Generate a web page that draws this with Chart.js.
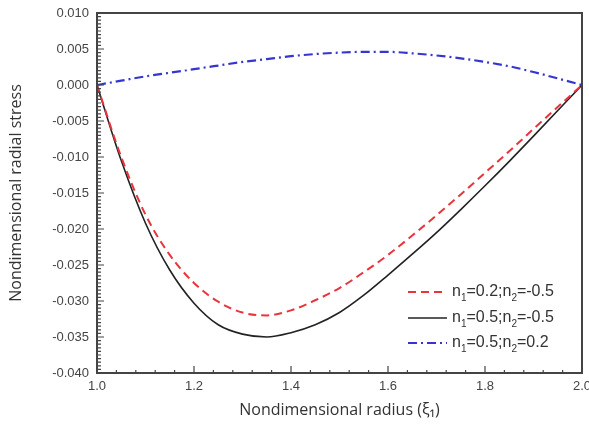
<!DOCTYPE html>
<html>
<head>
<meta charset="utf-8">
<script src="https://cdn.jsdelivr.net/npm/chart.js@4/dist/chart.umd.min.js"></script>
<style>
  html, body { margin: 0; padding: 0; background: #fff; }
  #wrap { width: 589px; height: 432px; }
</style>
</head>
<body>
<div id="wrap"><canvas id="chart" width="589" height="432"></canvas></div>
<script>
// Nondimensional radius (x) and radial stress for the three cases
const RADIUS = [1.0, 1.05, 1.1, 1.15, 1.2, 1.25, 1.3, 1.35, 1.4, 1.45, 1.5, 1.55, 1.6, 1.65, 1.7, 1.75, 1.8, 1.85, 1.9, 2.0];
const STRESS_A = [0, -0.0100, -0.0180, -0.0236, -0.0275, -0.0301, -0.0316, -0.0320, -0.0313, -0.0299, -0.0282, -0.0260, -0.0236, -0.0209, -0.0181, -0.0152, -0.0122, -0.0092, -0.0061, 0];
const STRESS_B = [0, -0.0105, -0.0192, -0.0257, -0.0303, -0.0333, -0.0346, -0.0350, -0.0344, -0.0333, -0.0316, -0.0292, -0.0264, -0.0235, -0.0205, -0.0173, -0.0140, -0.0106, -0.0071, 0];
const STRESS_C = [0, 0.0006, 0.0012, 0.0017, 0.0022, 0.0027, 0.0032, 0.0036, 0.0040, 0.0043, 0.0045, 0.0046, 0.0046, 0.0044, 0.0041, 0.0037, 0.0032, 0.0026, 0.0018, 0];

// legend labels: n1 and n2 values
const N1_VALUES = ['0.2', '0.5', '0.5'];
const N2_VALUES = ['-0.5', '-0.5', '0.2'];

const X_MIN = 1.0, X_MAX = 2.0, X_STEP = 0.2, X_MINOR = 0.04;
const Y_MIN = -0.04, Y_MAX = 0.01, Y_STEP = 0.005, Y_MINOR = 0.0005;

const TICK_FONT = { family: '"Liberation Sans", Arial, sans-serif', size: 13 };
const TITLE_FONT = { family: '"Open Sans", sans-serif', size: 16 };

function toPoints(ys) {
  return RADIUS.map((x, i) => ({ x, y: ys[i] }));
}

// Frame around the plot + inward major/minor ticks on left and bottom
const framePlugin = {
  id: 'frame',
  afterDatasetsDraw(chart) {
    const { ctx, chartArea: a, scales } = chart;
    ctx.save();
    ctx.strokeStyle = '#444';
    ctx.lineWidth = 1.2;
    ctx.beginPath();
    const yN = Math.round((Y_MAX - Y_MIN) / Y_MINOR);
    for (let i = 0; i <= yN; i++) {
      const v = Y_MIN + i * Y_MINOR;
      const py = scales.y.getPixelForValue(v);
      const len = i % 10 === 0 ? 7 : 4;
      ctx.moveTo(a.left, py);
      ctx.lineTo(a.left + len, py);
    }
    const xN = Math.round((X_MAX - X_MIN) / X_MINOR);
    for (let i = 0; i <= xN; i++) {
      const v = X_MIN + i * X_MINOR;
      const px = scales.x.getPixelForValue(v);
      const len = i % 5 === 0 ? 7 : 3;
      ctx.moveTo(px, a.bottom);
      ctx.lineTo(px, a.bottom - len);
    }
    ctx.stroke();
    ctx.strokeStyle = '#444';
    ctx.lineWidth = 2;
    ctx.strokeRect(a.left, a.top, a.right - a.left, a.bottom - a.top);
    ctx.restore();
  },
};

// Legend inside the lower right corner, with subscripts
const legendPlugin = {
  id: 'innerLegend',
  afterDraw(chart) {
    const { ctx } = chart;
    const x0 = 408, x1 = 447, tx = 452;
    const rows = [292, 318, 343];
    ctx.save();
    chart.data.datasets.forEach((ds, i) => {
      const y = rows[i];
      ctx.strokeStyle = ds.borderColor;
      ctx.lineWidth = ds.borderWidth;
      ctx.setLineDash(ds.borderDash || []);
      ctx.beginPath();
      ctx.moveTo(x0, y);
      ctx.lineTo(x1, y);
      ctx.stroke();
      ctx.setLineDash([]);

      const parts = [
        ['n', false], ['1', true], ['=' + N1_VALUES[i] + ';n', false],
        ['2', true], ['=' + N2_VALUES[i], false],
      ];
      let x = tx;
      ctx.fillStyle = '#333';
      ctx.textBaseline = 'middle';
      ctx.textAlign = 'left';
      for (const [txt, sub] of parts) {
        ctx.font = (sub ? '10px' : '16px') + ' "Liberation Sans", Arial, sans-serif';
        ctx.fillText(txt, x, sub ? y + 6 : y);
        x += ctx.measureText(txt).width;
      }
    });
    ctx.restore();
  },
};

new Chart(document.getElementById('chart'), {
  type: 'line',
  data: {
    datasets: [
      {
        label: 'n1=0.2;n2=-0.5',
        data: toPoints(STRESS_A),
        borderColor: '#e8343c',
        borderWidth: 2,
        borderDash: [8, 5],
      },
      {
        label: 'n1=0.5;n2=-0.5',
        data: toPoints(STRESS_B),
        borderColor: '#222',
        borderWidth: 1.6,
      },
      {
        label: 'n1=0.5;n2=0.2',
        data: toPoints(STRESS_C),
        borderColor: '#3535d0',
        borderWidth: 2.2,
        borderDash: [9, 4, 2, 4],
      },
    ],
  },
  options: {
    responsive: false,
    animation: false,
    layout: { padding: { top: 13, right: 7, left: 0, bottom: 0 } },
    elements: {
      point: { radius: 0 },
      line: { cubicInterpolationMode: 'monotone', fill: false },
    },
    plugins: {
      legend: { display: false },
      tooltip: { enabled: false },
    },
    scales: {
      x: {
        type: 'linear',
        min: X_MIN,
        max: X_MAX,
        ticks: {
          stepSize: X_STEP,
          padding: 6,
          color: '#444',
          font: TICK_FONT,
          maxRotation: 0,
          callback: v => Number(v).toFixed(1),
        },
        grid: { display: false, drawTicks: false },
        border: { display: false },
        title: {
          display: true,
          text: 'Nondimensional radius (ξ₁)',
          color: '#333',
          font: TITLE_FONT,
          padding: { bottom: 12 },
        },
        afterFit(scale) {
          scale.height = 59;
          // let the last tick label hang past the plot edge
          scale.paddingRight = 0;
          scale.paddingLeft = 0;
        },
      },
      y: {
        min: Y_MIN,
        max: Y_MAX,
        ticks: {
          stepSize: Y_STEP,
          padding: 8,
          color: '#444',
          font: TICK_FONT,
          callback: v => (Math.abs(v) < 1e-9 ? 0 : v).toFixed(3),
        },
        grid: { display: false, drawTicks: false },
        border: { display: false },
        title: {
          display: true,
          text: 'Nondimensional radial stress',
          color: '#333',
          font: TITLE_FONT,
          padding: { top: 7 },
        },
        afterFit(scale) {
          scale.width = 97;
          scale.paddingTop = 0;
          scale.paddingBottom = 0;
        },
      },
    },
  },
  plugins: [framePlugin, legendPlugin],
});
</script>
</body>
</html>
